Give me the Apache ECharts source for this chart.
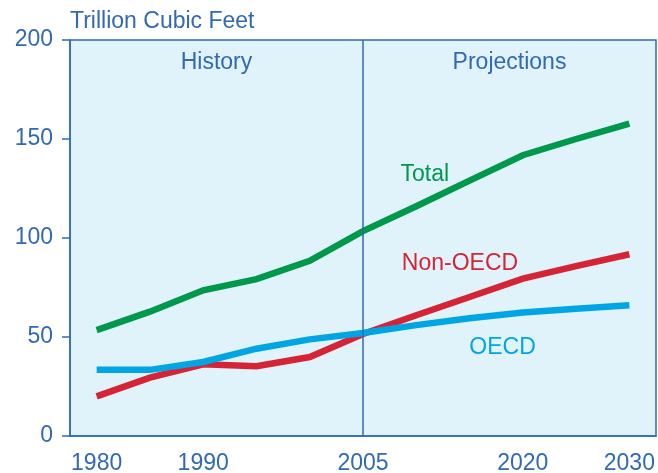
<!DOCTYPE html>
<html>
<head>
<meta charset="utf-8">
<script src="https://cdn.jsdelivr.net/npm/echarts@6/dist/echarts.min.js"></script>
<style>html,body{margin:0;padding:0;background:#fff;}#c{width:658px;height:473px;}</style>
</head>
<body>
<div id="c"></div>
<script>
const years = [1980, 1985, 1990, 1995, 2000, 2005, 2010, 2015, 2020, 2025, 2030];
const total = [53.5, 62.8, 73.6, 79.2, 88.5, 103.5, 116, 129, 141.8, 150, 157.8];
const nonOecd = [20, 29.5, 36.2, 35.2, 39.9, 51.5, 61, 70.2, 79.5, 85.8, 91.8];
const oecd = [33.5, 33.4, 37.4, 44.1, 48.8, 52, 56, 59.5, 62.4, 64.3, 66];
const xTickLabels = [1980, 1990, 2005, 2020, 2030];
const yTicks = [0, 50, 100, 150, 200];
const seriesNames = ['Total', 'Non-OECD', 'OECD'];
const labelAnchors = [[2010.8, 132], [2014.1, 87], [2018.1, 44.5]];
const splitYear = 2005;
const periodLabels = ['History', 'Projections'];

const BLUE = '#3169b3';
const colors = ['#00994c', '#d42436', '#00a6e4'];
const FONT = 'Liberation Sans, Arial, Helvetica, sans-serif';
const FS = 23;
const xMin = 1977.5, xMax = 2032.5;

function pairs(vals) { return years.map((y, i) => [y, vals[i]]); }

const chart = echarts.init(document.getElementById('c'), null, { renderer: 'canvas' });
const dataSets = [total, nonOecd, oecd];
const series = dataSets.map((vals, i) => ({
  name: seriesNames[i],
  type: 'line',
  data: pairs(vals),
  symbol: 'none',
  lineStyle: { color: colors[i], width: 6.5, cap: 'butt', join: 'miter' },
  z: 3 + (i === 2 ? 1 : 0),
  silent: true,
  markPoint: {
    symbol: 'rect', symbolSize: 1, itemStyle: { color: 'rgba(0,0,0,0)' },
    label: { show: true, position: 'inside', color: colors[i], fontSize: FS, fontFamily: FONT, formatter: seriesNames[i] },
    data: [{ coord: labelAnchors[i] }]
  }
}));
series.push({
  type: 'line', data: [], silent: true,
  markLine: {
    symbol: 'none', silent: true, label: { show: false },
    lineStyle: { color: BLUE, width: 1.5, type: 'solid' },
    data: [{ xAxis: splitYear }]
  },
  markArea: {
    silent: true, itemStyle: { color: 'rgba(0,0,0,0)' },
    label: { position: 'insideTop', distance: 11, color: BLUE, fontSize: FS, fontFamily: FONT },
    data: [
      [{ name: periodLabels[0], xAxis: xMin, yAxis: 200 }, { xAxis: splitYear, yAxis: 0 }],
      [{ name: periodLabels[1], xAxis: splitYear, yAxis: 200 }, { xAxis: xMax, yAxis: 0 }]
    ]
  }
});

chart.setOption({
  animation: false,
  backgroundColor: '#ffffff',
  title: {
    text: 'Trillion Cubic Feet', left: 70, top: 10, padding: 0,
    textStyle: { color: BLUE, fontSize: FS, fontWeight: 'normal', fontFamily: FONT }
  },
  grid: {
    left: 70, right: 2, top: 40, bottom: 37, show: true,
    containLabel: false, outerBoundsMode: 'none',
    backgroundColor: '#e1f3fa', borderColor: BLUE, borderWidth: 1.5
  },
  xAxis: {
    type: 'value', min: xMin, max: xMax,
    axisLine: { show: true, lineStyle: { color: BLUE, width: 1.5 } },
    axisTick: { show: false },
    splitLine: { show: false },
    axisLabel: { customValues: xTickLabels, formatter: v => String(v), color: BLUE, fontSize: FS, fontFamily: FONT, margin: 16 }
  },
  yAxis: {
    type: 'value', min: 0, max: 200, interval: 50,
    axisLine: { show: true, lineStyle: { color: BLUE, width: 1.5 } },
    axisTick: { show: true, length: 8, lineStyle: { color: BLUE, width: 1.5 }, customValues: yTicks },
    splitLine: { show: false },
    axisLabel: { color: BLUE, fontSize: FS, fontFamily: FONT, margin: 17, customValues: yTicks }
  },
  series: series
});
</script>
</body>
</html>
